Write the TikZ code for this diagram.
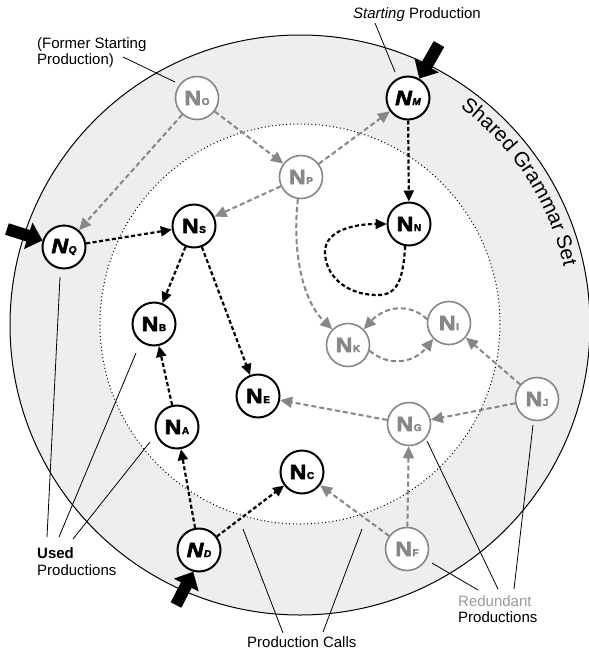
\documentclass[tikz,border=0pt]{standalone}
\usepackage{fontspec}
\usepackage{graphicx}
\setmainfont{Liberation Sans}
\newfontfamily\heavyfont[FakeBold=3]{Liberation Sans}
\usetikzlibrary{arrows.meta,decorations.text}
\definecolor{ringgray}{HTML}{EEEEEE}
\definecolor{gr}{HTML}{878787}
\definecolor{redgray}{HTML}{9A9A9A}
\newcommand{\Nlab}[1]{\scalebox{1.12}[1]{\fontsize{20.5}{20.5}\heavyfont\bfseries N}\hspace{0.6pt}{\fontsize{10}{10}\heavyfont\bfseries #1}}
\newcommand{\Nilab}[1]{\scalebox{1.12}[1]{\fontsize{20.5}{20.5}\heavyfont\bfseries\itshape N}\hspace{0.6pt}{\fontsize{10}{10}\heavyfont\bfseries\itshape #1}}
\begin{document}
\begin{tikzpicture}[x=1pt,y=-1pt,
  nd/.style={circle,draw=black,line width=2pt,minimum size=43pt,inner sep=0pt,fill=white,text=black},
  gnd/.style={circle,draw=gr,line width=1.6pt,minimum size=43pt,inner sep=0pt,fill=white,text=gr},
  barr/.style={draw=black,line width=2.2pt,dash pattern=on 4pt off 2.5pt,-{Triangle[length=11pt,width=10pt]}},
  garr/.style={draw=gr,line width=2pt,dash pattern=on 5pt off 3pt,-{Triangle[length=12pt,width=11pt]}},
  lead/.style={draw=black,line width=0.8pt},
  big/.style={draw=black,line width=12pt,-{Triangle[length=15pt,width=27pt]}},
  lbl/.style={font=\fontsize{15}{17}\selectfont,inner sep=0pt,anchor=base west}]
\useasboundingbox (0,0) rectangle (589,651);
% ring
\fill[ringgray] (300,325) circle[radius=290];
\fill[white] (300,324) circle[radius=200];
\draw[line width=1pt] (300,325) circle[radius=290];
\draw[line width=1pt,dash pattern=on 1pt off 2.6pt] (300,324) circle[radius=200];
\path[decorate,decoration={text along path,text align=center,
   text={|\fontsize{20.5}{20.5}\selectfont|Shared Grammar Set}}]
   (300,325) ++(-58:270) arc[start angle=-58,end angle=-8,radius=270];
% nodes
\node[gnd] (O) at (197,98) {\Nlab{O}};
\node[nd]  (M) at (408,98) {\Nilab{M}};
\node[gnd] (P) at (301,177) {\Nlab{P}};
\node[nd]  (N) at (409,224) {\Nlab{N}};
\node[nd]  (S) at (194,226) {\Nlab{S}};
\node[nd]  (Q) at (64,247) {\Nilab{Q}};
\node[nd]  (B) at (154,324) {\Nlab{B}};
\node[nd]  (E) at (258,396) {\Nlab{E}};
\node[nd]  (A) at (177,427) {\Nlab{A}};
\node[nd]  (D) at (199,550) {\Nilab{D}};
\node[nd]  (C) at (302,472) {\Nlab{C}};
\node[gnd] (F) at (407,549) {\Nlab{F}};
\node[gnd] (G) at (409,424) {\Nlab{G}};
\node[gnd] (J) at (537,399) {\Nlab{J}};
\node[gnd] (I) at (449,323) {\Nlab{I}};
\node[gnd] (K) at (348,345) {\Nlab{K}};
% gray calls
\draw[garr] (O) -- (Q);
\draw[garr] (O) -- (P);
\draw[garr] (P) -- (M);
\draw[garr] (P) -- (S);
\draw[garr] (P.262) .. controls (292,250) and (302,300) .. (K.135);
\draw[garr] (I.170) .. controls (410,303) and (385,306) .. (K.45);
\draw[garr] (K.-15) .. controls (390,368) and (415,362) .. (I.-135);
\draw[garr] (J) -- (I);
\draw[garr] (J) -- (G);
\draw[garr] (G) -- (E);
\draw[garr] (F) -- (G);
\draw[garr] (F) -- (C);
% black calls
\draw[barr] (Q) -- (S);
\draw[barr] (S) -- (B);
\draw[barr] (S) -- (E);
\draw[barr] (A) -- (B);
\draw[barr] (D) -- (A);
\draw[barr] (D) -- (C);
\draw[barr] (M) -- (N);
\draw[barr] (N.-100) .. controls (403,285) and (395,296) .. (375,295)
   .. controls (345,294) and (325,275) .. (325,252)
   .. controls (325,230) and (355,224) .. (N.180);
% entry arrows
\coordinate (mt) at (439,44);
\coordinate (qt) at (7,229);
\coordinate (dt) at (176,605);
\draw[big] (mt) -- (M.60);
\draw[big] (qt) -- (Q.163);
\draw[big] (dt) -- (D.-105);
% labels
\node[lbl] (fs1) at (37,48) {(Former Starting};
\node[lbl] (fs2) at (37,64) {Production)};
\node[lbl] (sp) at (353,18) {\itshape Starting\upshape\ Production};
\node[lbl] (u1) at (37,558) {\bfseries Used};
\node[lbl] (u2) at (37,575) {Productions};
\node[lbl] (pc) at (247,647) {Production Calls};
\node[lbl,text=redgray] (r1) at (458,606) {Redundant};
\node[lbl] (r2) at (458,622) {Productions};
% leader lines
\coordinate (l1a) at (123,57); \coordinate (l1b) at (175,82);
\draw[lead] (l1a) -- (l1b);
\coordinate (l2a) at (375,23); \coordinate (l2b) at (395,72);
\draw[lead] (l2a) -- (l2b);
\coordinate (u1a) at (47,537); \coordinate (u1b) at (60,277);
\coordinate (u2a) at (59,537); \coordinate (u2b) at (136,353);
\coordinate (u3a) at (73,539); \coordinate (u3b) at (150,442);
\draw[lead] (u1a) -- (u1b);
\draw[lead] (u2a) -- (u2b);
\draw[lead] (u3a) -- (u3b);
\coordinate (p1a) at (283,633); \coordinate (p1b) at (243,529);
\coordinate (p2a) at (323,632); \coordinate (p2b) at (362,529);
\draw[lead] (p1a) -- (p1b);
\draw[lead] (p2a) -- (p2b);
\coordinate (r1a) at (478,590); \coordinate (r1b) at (432,563);
\coordinate (r2a) at (498,589); \coordinate (r2b) at (427,441);
\coordinate (r3a) at (514,589); \coordinate (r3b) at (533,425);
\draw[lead] (r1a) -- (r1b);
\draw[lead] (r2a) -- (r2b);
\draw[lead] (r3a) -- (r3b);
\end{tikzpicture}
\end{document}
